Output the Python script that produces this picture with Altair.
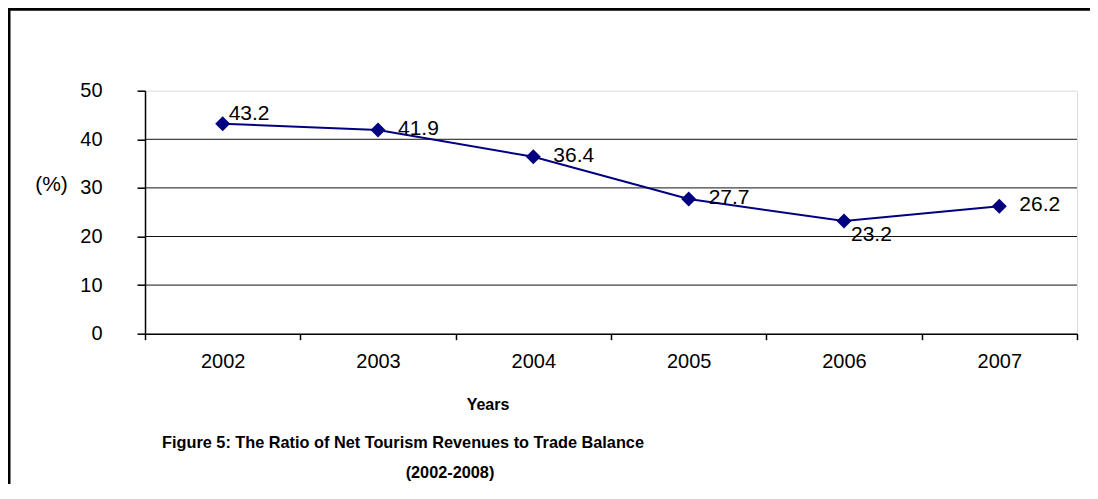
import altair as alt
import pandas as pd

years = ["2002", "2003", "2004", "2005", "2006", "2007"]
ratio = [43.2, 41.9, 36.4, 27.7, 23.2, 26.2]
grid_values = [10, 20, 30, 40]
y_ticks = [0, 10, 20, 30, 40, 50]

y_title = "(%)"
x_title = "Years"
caption1 = "Figure 5: The Ratio of Net Tourism Revenues to  Trade Balance"
caption2 = "(2002-2008)"

df = pd.DataFrame({"year": years, "ratio": ratio, "label": [f"{v:.1f}" for v in ratio]})
grid_df = pd.DataFrame({"v": grid_values})

W, H = 932, 243
FONT = "Liberation Sans, Arial, sans-serif"
NAVY = "#000080"

yscale = alt.Scale(domain=[0, 50], nice=False, zero=True)
xscale = alt.Scale(type="band", paddingInner=0, paddingOuter=0)

X = alt.X("year:O", scale=xscale, bandPosition=0.5,
          axis=alt.Axis(title=None, labelAngle=0, labelFontSize=20, labelFont=FONT,
                        labelColor="black", labelPadding=12, tickBand="extent",
                        tickSize=6, tickColor="black", tickWidth=1.5,
                        domainColor="black", domainWidth=1.5, grid=False))
Y = alt.Y("ratio:Q", scale=yscale,
          axis=alt.Axis(title=None, values=y_ticks, labelFontSize=20, labelFont=FONT,
                        labelColor="black", labelPadding=35, tickSize=8,
                        tickColor="black", tickWidth=1.5, domainColor="black",
                        domainWidth=1.5, grid=False))

grid = alt.Chart(grid_df).mark_rule(color="#111111", strokeWidth=1).encode(
    y=alt.Y("v:Q", scale=yscale), x=alt.value(0), x2=alt.value(W))

base = alt.Chart(df)
line = base.mark_line(color=NAVY, strokeWidth=2).encode(x=X, y=Y)
pts = base.mark_point(shape="diamond", filled=True, size=225, color=NAVY, opacity=1).encode(x=X, y=Y)

lab_style = dict(align="left", baseline="middle", fontSize=21, font=FONT, color="black")
lab_right = base.transform_filter(
    alt.FieldOneOfPredicate(field="year", oneOf=["2003", "2004", "2005", "2007"])
).mark_text(dx=20, dy=-1, **lab_style).encode(x=X, y=Y, text="label:N")
lab_up = base.transform_filter(alt.datum.year == "2002").mark_text(
    dx=6, dy=-10, **lab_style).encode(x=X, y=Y, text="label:N")
lab_down = base.transform_filter(alt.datum.year == "2006").mark_text(
    dx=7, dy=14, **lab_style).encode(x=X, y=Y, text="label:N")

one = pd.DataFrame({"t": [0]})
ytitle = alt.Chart(one).mark_text(text=y_title, fontSize=21, font=FONT, color="black",
                                  align="center", baseline="middle").encode(
    x=alt.value(-93.5), y=alt.value(94))
bold = dict(fontWeight="bold", font=FONT, color="black", align="center", baseline="middle")
xtitle = alt.Chart(one).mark_text(text=x_title, fontSize=16, **bold).encode(
    x=alt.value(343), y=alt.value(314.5))
cap1 = alt.Chart(one).mark_text(text=caption1, fontSize=16.3, **bold).encode(
    x=alt.value(258), y=alt.value(352.5))
cap2 = alt.Chart(one).mark_text(text=caption2, fontSize=16.3, **bold).encode(
    x=alt.value(305), y=alt.value(382.5))

frame_left = alt.Chart(one).mark_rule(color="black", strokeWidth=3).encode(
    x=alt.value(-136), y=alt.value(-84), y2=alt.value(420))
frame_top = alt.Chart(one).mark_rule(color="black", strokeWidth=3).encode(
    x=alt.value(-137.5), x2=alt.value(960), y=alt.value(-81.5))

chart = alt.layer(grid, line, pts, lab_right, lab_up, lab_down, ytitle, xtitle, cap1, cap2,
                  frame_left, frame_top).properties(
    width=W, height=H,
    autosize=alt.AutoSizeParams(type="none"),
    padding={"left": 137, "top": 82.7, "right": 13, "bottom": 150},
).configure_view(stroke="#888888", strokeWidth=1.5).configure(background="white")

chart.save("out.html", embed_options={"renderer": "svg", "actions": False})
